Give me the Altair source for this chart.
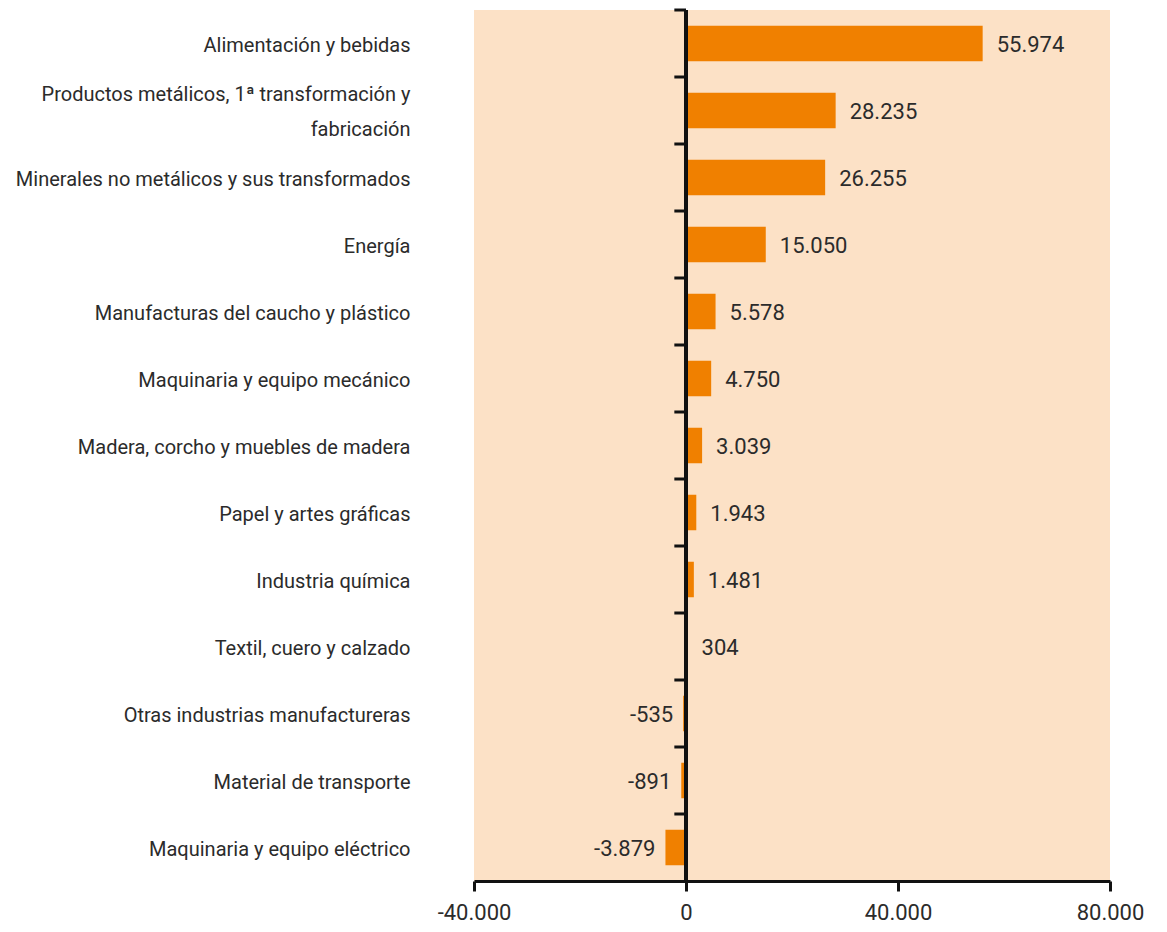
import altair as alt
import pandas as pd

# Sectors, top to bottom, and their values
sectors = [
    "Alimentación y bebidas",
    "Productos metálicos, 1ª transformación y\nfabricación",
    "Minerales no metálicos y sus transformados",
    "Energía",
    "Manufacturas del caucho y plástico",
    "Maquinaria y equipo mecánico",
    "Madera, corcho y muebles de madera",
    "Papel y artes gráficas",
    "Industria química",
    "Textil, cuero y calzado",
    "Otras industrias manufactureras",
    "Material de transporte",
    "Maquinaria y equipo eléctrico",
]
values = [55974, 28235, 26255, 15050, 5578, 4750, 3039, 1943, 1481, 304, -535, -891, -3879]
x_ticks = [-40000, 0, 40000, 80000]

df = pd.DataFrame({"sector": sectors, "valor": values})

FONT = "Roboto, sans-serif"
BAR = "#F08000"
INK = "#2b2b2b"
PANEL = "#FCE1C6"

x_scale = alt.Scale(domain=[-40000, 80000], nice=False, zero=False)
y_scale = alt.Scale(paddingInner=0, paddingOuter=0)

base = alt.Chart(df)

bars = base.mark_bar(color=BAR, height=alt.RelativeBandSize(0.53)).encode(
    x=alt.X(
        "valor:Q",
        scale=x_scale,
        title=None,
        axis=alt.Axis(
            values=x_ticks,
            format=",d",
            grid=False,
            domainColor="#111111",
            domainWidth=3,
            tickColor="#111111",
            tickWidth=3,
            tickSize=10,
            labelFontSize=22,
            labelColor=INK,
            labelFont=FONT,
            labelPadding=11,
            labelFlush=False,
        ),
    ),
    y=alt.Y(
        "sector:N",
        sort=sectors,
        scale=y_scale,
        title=None,
        axis=alt.Axis(
            domain=False,
            ticks=False,
            labelFontSize=20,
            labelColor=INK,
            labelFont=FONT,
            labelPadding=64,
            labelLimit=600,
            labelLineHeight=35,
            labelExpr="split(datum.label, '\\n')",
            labelOffset={
                "condition": {"test": "indexof(datum.value, '\\n') >= 0", "value": -16},
                "value": 2,
            },
        ),
    ),
)

zero_line = base.mark_rule(color="#111111", strokeWidth=3).encode(
    x=alt.datum(0, scale=x_scale)
)

band_ticks = base.mark_rule(color="#111111", strokeWidth=3).encode(
    x=alt.datum(0),
    x2=alt.datum(-2200),
    y=alt.Y("sector:N", sort=sectors, bandPosition=0),
)

pos_labels = base.transform_filter("datum.valor >= 0").mark_text(
    align="left", baseline="middle", dx=14, dy=1, fontSize=22, font=FONT, color=INK
).encode(
    x="valor:Q",
    y=alt.Y("sector:N", sort=sectors),
    text=alt.Text("valor:Q", format=",d"),
)

neg_labels = base.transform_filter("datum.valor < 0").mark_text(
    align="right", baseline="middle", dx=-10, dy=1, fontSize=22, font=FONT, color=INK
).encode(
    x="valor:Q",
    y=alt.Y("sector:N", sort=sectors),
    text=alt.Text("valor:Q", format=",d"),
)

chart = (
    alt.layer(bars, zero_line, band_ticks, pos_labels, neg_labels)
    .properties(
        width=636,
        height=871,
        autosize=alt.AutoSizeParams(type="none"),
        padding={"left": 474, "top": 10, "right": 57, "bottom": 51},
        background="white",
    )
    .configure(
        locale=alt.Locale(
            number=alt.NumberLocale(
                decimal=",",
                thousands=".",
                grouping=[3],
                currency=["", " €"],
                minus="-",
            )
        )
    )
    .configure_view(fill=PANEL, strokeWidth=0)
)

chart.save("out.html", embed_options={"renderer": "svg", "actions": False})
